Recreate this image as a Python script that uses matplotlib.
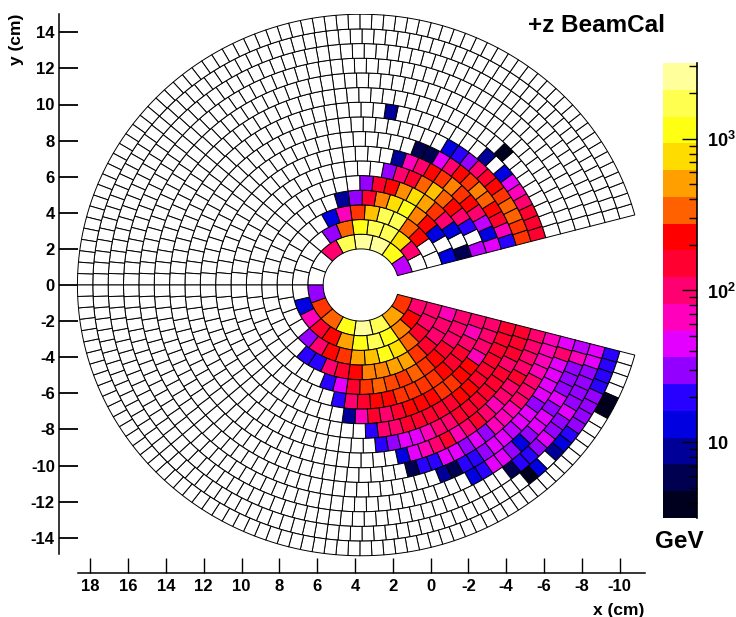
import numpy as np
import matplotlib
matplotlib.use('Agg')
import matplotlib.pyplot as plt
from matplotlib.collections import PolyCollection
from matplotlib.colors import ListedColormap, LinearSegmentedColormap, BoundaryNorm

plt.rcParams['font.family'] = ['Liberation Sans', 'DejaVu Sans']
plt.rcParams['font.weight'] = 'bold'
plt.rcParams['mathtext.fontset'] = 'custom'
plt.rcParams['mathtext.bf'] = 'Liberation Sans:bold'

# detector layout (cm)
center_x = 3.68
r_inner = 2.0
r_outer = 15.0
n_rings = 16
wedge_deg = 15.0
cells_half = [4 + 4 * k for k in range(1, n_rings + 1)]

# colour level of each cell, ring by ring from the inner radius, starting at the
# wedge edge. -1 = empty, rings stop after the last hit
upper_levels = [
    [5.5, 14, 16, 16, 15, 8],
    [-1, 8, 13, 15, 15, 14, 11, 5],
    [-1, -1, 10, 11, 15, 15, 12.5, 10.5, 7, 3],
    [3, -1, 3, 10, 11.5, 14, 13, 11.5, 9, 5, 2],
    [1, -1, 3, 8, 10.5, 12, 13, 11.7, 10, 9, 5],
    [5.5, -1, 4, 8, 10, 11, 12.5, 11, 9, 8, 5],
    [6, 3, 5.5, 8, 10, 10.5, 11.5, 10.5, 10, 8, 7, 2],
    [4, 7, 9, 10, 11, 11.5, 10.5, 10, 8, 6, 1, 1],
    [10.5, 10.5, 11, 11, 10.5, 10, 9, 8, 5, 4, 3],
    [9, 9, 9, 8, 7, 6, 3, -1, 2, -1, -1, -1, -1, -1, -1, -1, -1, 2],
    [-1, -1, -1, -1, -1, -1, -1, -1, 0],
    [], [], [], [], [],
]
lower_levels = [
    [10.5, 12, 15, 16, 14, 11, 10.5, 5],
    [8, 10, 11.5, 14, 15, 14, 12, 10, 9, 7, 3],
    [8, 8, 9, 11, 13, 14, 12.5, 12, 10.5, 10, 8, 5],
    [7, 8, 8, 9, 10.5, 12, 12, 11.5, 11.5, 10, 9, 8, 4, 4],
    [8, 8, 8, 9, 10, 10.5, 11, 10.5, 10.7, 11, 10.5, 9, 6, 4],
    [8, 7, 8, 9, 9, 10, 10.5, 10.5, 10.5, 10.5, 10, 10, 9, 8, 4],
    [8, 8, 8, 7, 10, 10, 10.5, 10.5, 10, 10, 10, 9, 8, 9, 7, 2],
    [9, 9, 9, 9, 9, 9, 10, 10, 9, 9, 9, 9, 9, 8, 8, 4],
    [9, 9, 9, 8, 9, 9, 9, 9, 9, 9, 8, 8, 7, 6, 6, 5, 4],
    [8, 8, 8, 8, 9, 8, 8, 7, 8, 9, 8, 7, 9, 8, 7, 6, 3],
    [7, 7, 7, 7, 8, 8, 8, 7, 7, 7, 5, 6, 5, 6, 6, 4, 4, 1],
    [6, 8, 6, 6, 6, 6, 5, 6, 6, 5.5, 6, 6, 5, 4, 4, 1, 2],
    [5.5, 7, 5, 5, 5, 6, 5, 6, 6, 5, 3, 5, 6, 6, 4, 3],
    [6, 6, 5, 5, 5, 5, 6, 5, 5, 6, 5, 4, 4, 1],
    [4, 4, 4, 4, 5, 5, 5, 5, 4, 3, 2, -1, 3, 0],
    [-1, -1, -1, -1, 0, 0],
]

band_colors = ['#00001e', '#000050', '#000098', '#0000e0', '#2800ff', '#9400ff',
               '#e400ff', '#ff00bc', '#ff0070', '#ff0030', '#ff0000', '#ff6000',
               '#ffa000', '#ffdc00', '#ffff14', '#ffff50', '#ffff9c']

x_ticks = [18, 16, 14, 12, 10, 8, 6, 4, 2, 0, -2, -4, -6, -8, -10]
y_ticks = [-14, -12, -10, -8, -6, -4, -2, 0, 2, 4, 6, 8, 10, 12, 14]
bar_log_min = 0.5
bar_log_max = 3.5
bar_majors = [10, 100, 1000]
bar_major_labels = [r'$\mathbf{10}$', r'$\mathbf{10^{2}}$', r'$\mathbf{10^{3}}$']

W, H = 736, 617
fig = plt.figure(figsize=(W / 100, H / 100), dpi=100)


def px_axes(x0, y0, x1, y1):
    return fig.add_axes([x0 / W, 1 - y1 / H, (x1 - x0) / W, (y1 - y0) / H])


ax = px_axes(59, 14, 645, 573)
ax.patch.set_alpha(0)
x_scale = 18.9
y_scale = 18.05
ax.set_xlim((430.5 - 59) / x_scale, (430.5 - 645) / x_scale)
ax.set_ylim((285 - 573) / y_scale, (285 - 14) / y_scale)

# cells may sit between two bar bands
cell_cmap = LinearSegmentedColormap.from_list('cells', band_colors, N=256)
n_top = len(band_colors) - 1

ring_edges = np.linspace(r_inner, r_outer, n_rings + 1)
verts = []
faces = []
for ring in range(n_rings):
    r0, r1 = ring_edges[ring], ring_edges[ring + 1]
    n = cells_half[ring]
    phi = np.linspace(wedge_deg, 180.0, n + 1)
    for sign, levels in ((1, upper_levels[ring]), (-1, lower_levels[ring])):
        for i in range(n):
            a = np.radians(np.linspace(phi[i], phi[i + 1], 5))
            rr = np.concatenate([np.full(5, r0), np.full(5, r1)])
            aa = np.concatenate([a, a[::-1]])
            verts.append(np.column_stack([center_x - rr * np.cos(aa), sign * rr * np.sin(aa)]))
            lev = levels[i] if i < len(levels) else -1
            faces.append('white' if lev < 0 else cell_cmap(lev / n_top))

ax.add_collection(PolyCollection(verts, facecolors=faces, edgecolors='black', linewidths=0.7))

for s in ['top', 'right']:
    ax.spines[s].set_visible(False)
ax.spines['left'].set_linewidth(1.1)
ax.spines['bottom'].set_linewidth(1.1)
ax.spines['left'].set_bounds((285 - 554) / y_scale, (285 - 14) / y_scale)
ax.spines['bottom'].set_bounds((430.5 - 78) / x_scale, (430.5 - 645) / x_scale)
ax.set_xticks(x_ticks)
ax.set_yticks(y_ticks)
ax.set_xticklabels([str(v) for v in x_ticks])
ax.set_yticklabels([str(v) for v in y_ticks])
ax.tick_params(axis='x', direction='in', length=10.5, width=1.0, pad=4, labelsize=12)
ax.tick_params(axis='y', direction='in', length=13.5, width=1.3, pad=3, labelsize=12)

# colour bar
cax = px_axes(663, 63, 697, 518)
edges = np.logspace(bar_log_min, bar_log_max, len(band_colors) + 1)
cmap = ListedColormap(band_colors)
norm = BoundaryNorm(np.arange(len(band_colors) + 1) - 0.5, len(band_colors))
cax.set_yscale('log')
cax.pcolormesh([0, 1], edges, np.arange(len(band_colors)).reshape(-1, 1), cmap=cmap, norm=norm)
cax.set_ylim(edges[0], edges[-1])
cax.set_xticks([])
for s in ['top', 'left', 'bottom']:
    cax.spines[s].set_visible(False)
cax.spines['right'].set_linewidth(1.2)
cax.yaxis.tick_right()
cax.set_yticks(bar_majors)
cax.set_yticklabels(bar_major_labels)
minors = [m * d for d in [1, 10, 100, 1000] for m in range(2, 10)]
minors = [m for m in minors if edges[0] <= m <= edges[-1]]
cax.set_yticks(minors, minor=True)
cax.set_yticklabels([], minor=True)
cax.tick_params(axis='y', which='major', direction='in', length=11, width=1.0, pad=7.5, labelsize=13)
cax.tick_params(axis='y', which='minor', direction='in', length=5.5, width=1.0)

fig.text(528 / W, 1 - 25 / H, '+z BeamCal', fontsize=17.5, fontweight='bold', va='center', ha='left')
fig.text(655 / W, 1 - 542 / H, 'GeV', fontsize=17.5, fontweight='bold', va='center', ha='left')
fig.text(644 / W, 1 - 610 / H, 'x (cm)', fontsize=12.5, fontweight='bold', va='center', ha='right')
fig.text(17 / W, 1 - 14 / H, 'y (cm)', fontsize=12.5, fontweight='bold', rotation=90, va='top', ha='center')

fig.savefig('out.png', dpi=100)
